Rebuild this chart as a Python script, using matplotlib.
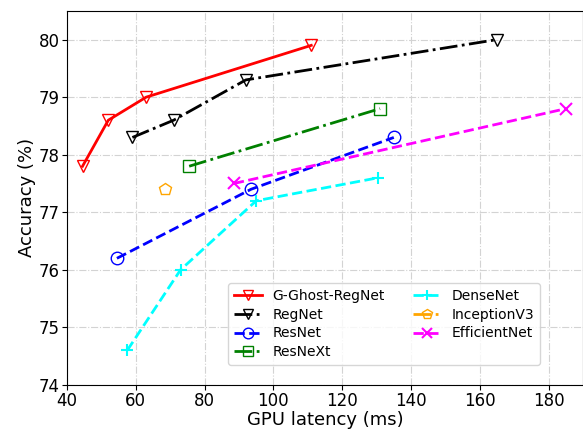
import matplotlib
matplotlib.use('Agg')
import matplotlib.pyplot as plt

ghost_x = [44.5, 52, 63, 111]
ghost_y = [77.8, 78.6, 79.0, 79.9]
regnet_x = [59, 71, 92, 165]
regnet_y = [78.3, 78.6, 79.3, 80.0]
resnet_x = [54.5, 93.5, 135]
resnet_y = [76.2, 77.4, 78.3]
resnext_x = [75.5, 131]
resnext_y = [77.8, 78.8]
densenet_x = [57.5, 73, 95, 130.5]
densenet_y = [74.6, 76.0, 77.2, 77.6]
inception_x = [68.5]
inception_y = [77.4]
effnet_x = [88.5, 185]
effnet_y = [77.5, 78.8]

fig = plt.figure(figsize=(5.83, 4.33), dpi=100)
ax = fig.add_axes([0.115, 0.111, 0.885, 0.864])

ms = 9
ax.plot(ghost_x, ghost_y, '-', color='red', marker='v', mfc='none', ms=ms, lw=2, label='G-Ghost-RegNet')
ax.plot(regnet_x, regnet_y, '-.', color='black', marker='v', mfc='none', ms=ms, lw=2, label='RegNet')
ax.plot(resnet_x, resnet_y, '--', color='blue', marker='o', mfc='none', ms=ms, lw=2, label='ResNet')
ax.plot(resnext_x, resnext_y, '-.', color='green', marker='s', mfc='none', ms=ms, lw=2, label='ResNeXt')
ax.plot(densenet_x, densenet_y, '--', color='cyan', marker='+', ms=ms, mew=1.5, lw=2, label='DenseNet')
ax.plot(inception_x, inception_y, '-.', color='orange', marker='p', mfc='none', ms=ms, lw=2, label='InceptionV3')
ax.plot(effnet_x, effnet_y, '--', color='magenta', marker='x', ms=ms, mew=1.5, lw=2, label='EfficientNet')

ax.set_xlim(40, 190)
ax.set_ylim(74, 80.5)
ax.set_xticks([40, 60, 80, 100, 120, 140, 160, 180])
ax.set_yticks([74, 75, 76, 77, 78, 79, 80])
ax.tick_params(labelsize=12, pad=1.5)
ax.grid(True, linestyle='-.', color='lightgray')
ax.set_xlabel('GPU latency (ms)', fontsize=13, labelpad=1)
ax.set_ylabel('Accuracy (%)', fontsize=13, labelpad=2)
ax.legend(ncol=2, fontsize=10, loc='lower right', bbox_to_anchor=(0.93, 0.035),
          handlelength=2.0, columnspacing=2.0, labelspacing=0.35, markerscale=0.85)

fig.savefig('out.png', dpi=100)
